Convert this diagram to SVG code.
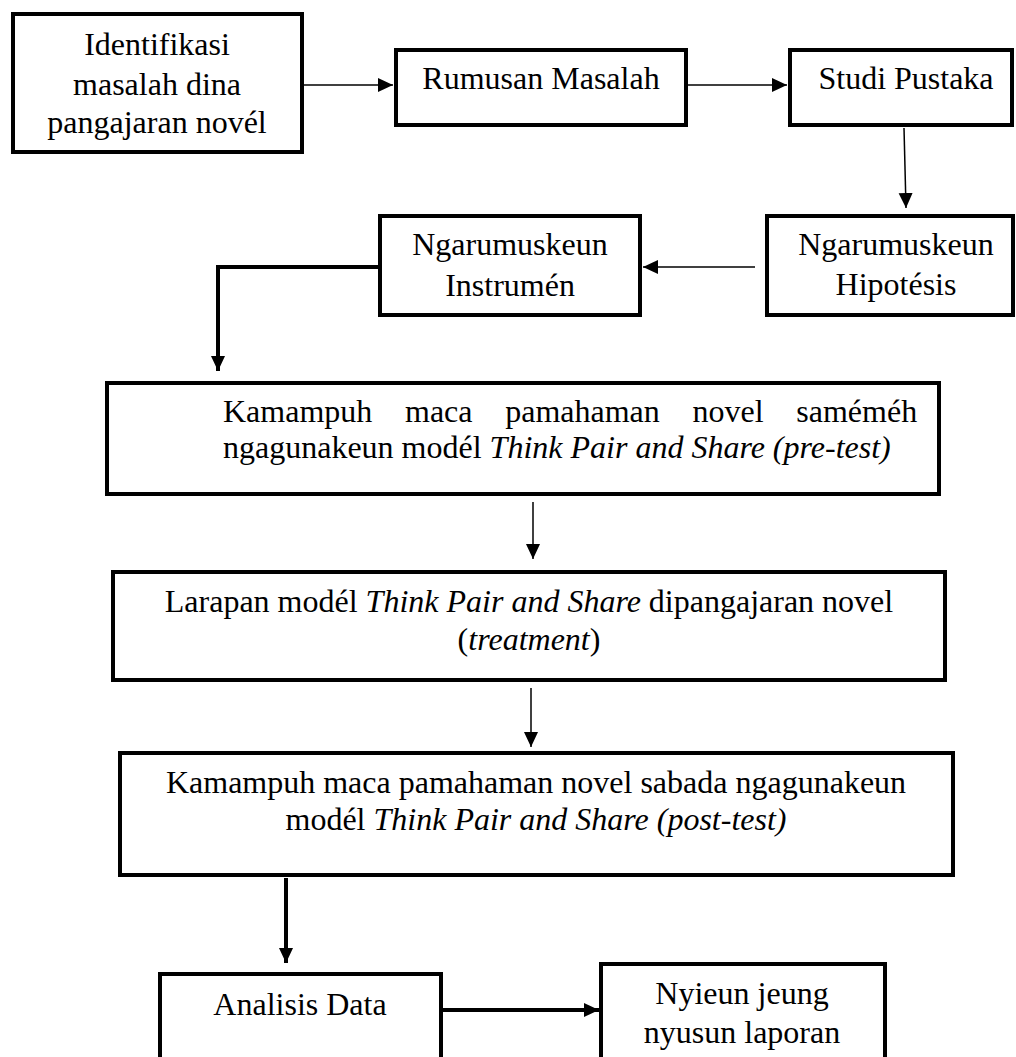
<svg xmlns="http://www.w3.org/2000/svg" width="1016" height="1057" viewBox="0 0 1016 1057">
<style>
.box{fill:#fff;stroke:#000;stroke-width:4}
.t{font-family:"Liberation Serif","Times New Roman",serif;font-size:32px;fill:#000}
.c{text-anchor:middle}
.i{font-style:italic}
.thin{fill:none;stroke:#000;stroke-width:1.5}
.thick{fill:none;stroke:#000;stroke-width:4}
</style>
<defs>
<marker id="ah" markerUnits="userSpaceOnUse" markerWidth="16" markerHeight="16" viewBox="0 0 16 16" refX="15" refY="8" orient="auto">
<path d="M0,1 L15,8 L0,15 Z" fill="#000"/>
</marker>
</defs>
<rect width="1016" height="1057" fill="#fff"/>
<g id="connectors">
<path class="thin" d="M303,85 L393,85" marker-end="url(#ah)"/>
<path class="thin" d="M688,85 L787,85" marker-end="url(#ah)"/>
<path class="thin" d="M904,128 L906,208" marker-end="url(#ah)"/>
<path class="thin" d="M755,267 L643,267" marker-end="url(#ah)"/>
<path class="thick" d="M378,267 L218,267 L218,371" marker-end="url(#ah)"/>
<path class="thin" d="M533,502 L533,559" marker-end="url(#ah)"/>
<path class="thin" d="M531,688 L531,747" marker-end="url(#ah)"/>
<path class="thick" d="M286,878 L286,963" marker-end="url(#ah)"/>
<path class="thick" d="M443,1010 L599,1010" marker-end="url(#ah)"/>
</g>
<g id="n1">
<rect class="box" x="13" y="14" width="289" height="138"/>
<text class="t c" x="157" y="55">Identifikasi</text>
<text class="t c" x="157" y="95">masalah dina</text>
<text class="t c" x="157" y="133">pangajaran novél</text>
</g>
<g id="n2">
<rect class="box" x="396" y="50" width="290" height="75"/>
<text class="t c" x="541" y="89">Rumusan Masalah</text>
</g>
<g id="n3">
<rect class="box" x="790" y="50" width="222" height="75"/>
<text class="t c" x="906" y="89">Studi Pustaka</text>
</g>
<g id="n4">
<rect class="box" x="767" y="216" width="246" height="99"/>
<text class="t c" x="896" y="255">Ngarumuskeun</text>
<text class="t c" x="896" y="295">Hipotésis</text>
</g>
<g id="n5">
<rect class="box" x="380" y="216" width="260" height="99"/>
<text class="t c" x="510" y="255">Ngarumuskeun</text>
<text class="t c" x="510" y="296">Instrumén</text>
</g>
<g id="n6">
<rect class="box" x="107" y="383" width="832" height="111"/>
<text class="t" x="223" y="422" word-spacing="24.7">Kamampuh maca pamahaman novel saméméh</text>
<text class="t" x="223" y="458">ngagunakeun modél <tspan class="i">Think Pair and Share (pre-test)</tspan></text>
</g>
<g id="n7">
<rect class="box" x="113" y="572" width="832" height="108"/>
<text class="t c" x="529" y="612">Larapan modél <tspan class="i">Think Pair and Share</tspan> dipangajaran novel</text>
<text class="t c" x="529" y="650">(<tspan class="i">treatment</tspan>)</text>
</g>
<g id="n8">
<rect class="box" x="120" y="753" width="833" height="122"/>
<text class="t c" x="536" y="793">Kamampuh maca pamahaman novel sabada ngagunakeun</text>
<text class="t c" x="536" y="830">modél <tspan class="i">Think Pair and Share (post-test)</tspan></text>
</g>
<g id="n9">
<rect class="box" x="160" y="974" width="281" height="100"/>
<text class="t c" x="300" y="1015">Analisis Data</text>
</g>
<g id="n10">
<rect class="box" x="601" y="964" width="284" height="110"/>
<text class="t c" x="742" y="1004">Nyieun jeung</text>
<text class="t c" x="742" y="1043">nyusun laporan</text>
</g>
</svg>
